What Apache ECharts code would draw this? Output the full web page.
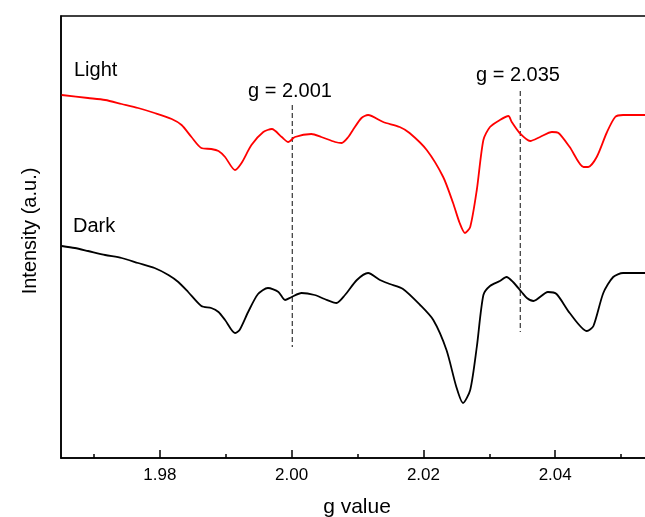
<!DOCTYPE html>
<html>
<head>
<meta charset="utf-8">
<script src="https://cdn.jsdelivr.net/npm/echarts@6/dist/echarts.min.js"></script>
<style>html,body{margin:0;padding:0;background:#fff;}#c{width:645px;height:517px;}</style>
</head>
<body>
<div id="c"></div>
<script>
// g values and intensities (a.u.)
var lightG = [1.9651,1.9691,1.9717,1.9742,1.9767,1.9792,1.9818,1.9833,1.9848,1.9863,1.9878,1.9889,1.9899,1.9914,1.9924,1.9939,1.9957,1.9970,1.9985,1.9995,2.0005,2.0030,2.0045,2.0066,2.0076,2.0086,2.0093,2.0106,2.0116,2.0139,2.0164,2.0179,2.0205,2.0230,2.0245,2.0255,2.0263,2.0271,2.0281,2.0291,2.0301,2.0316,2.0329,2.0334,2.0346,2.0362,2.0377,2.0395,2.0405,2.0422,2.0443,2.0450,2.0463,2.0478,2.0491,2.0503,2.0534,2.0560];
var lightI = [363,360,358,354,350,345,339,333,321,310,309,307,301,288,295,313,326,329,321,316,321,324,321,316,315,321,328,340,343,336,331,325,308,281,255,235,225,231,268,318,331,338,342,336,325,317,321,326,325,311,291,291,301,325,341,343,343,343];
var darkG = [1.9651,1.9671,1.9691,1.9717,1.9742,1.9767,1.9792,1.9813,1.9828,1.9843,1.9863,1.9878,1.9889,1.9899,1.9914,1.9921,1.9934,1.9949,1.9964,1.9980,1.9990,2.0000,2.0015,2.0035,2.0050,2.0068,2.0081,2.0099,2.0116,2.0134,2.0149,2.0169,2.0195,2.0215,2.0235,2.0250,2.0260,2.0271,2.0281,2.0291,2.0301,2.0316,2.0326,2.0336,2.0349,2.0357,2.0367,2.0389,2.0402,2.0422,2.0448,2.0458,2.0473,2.0488,2.0503,2.0534,2.0560];
var darkI = [212,210,207,203,200,195,190,183,176,166,152,150,146,138,125,128,146,164,170,166,158,161,165,163,159,155,163,178,185,178,174,169,153,138,108,71,55,68,111,163,172,177,181,176,166,160,157,166,164,145,127,132,165,181,185,185,185];
// dashed marker lines
var dashG = [2.0001, 2.0347];
var dashTop = [353, 367];
var dashBottom = [111, 126];
var dashLabels = ['g = 2.001', 'g = 2.035'];
// axis ticks
var majorTicks = [1.98, 2.00, 2.02, 2.04, 2.06];
var minorTicks = [1.97, 1.99, 2.01, 2.03, 2.05];
var xMin = 1.965, xMax = 2.06;

var FONT = '"Liberation Sans", Arial, sans-serif';
function zip(a, b) { return a.map(function (v, i) { return [v, b[i]]; }); }

var series = [
  { type: 'line', name: 'Light', data: zip(lightG, lightI), showSymbol: false, smooth: 0.25,
    lineStyle: { color: '#ff0000', width: 1.8 }, itemStyle: { color: '#ff0000' }, z: 3 },
  { type: 'line', name: 'Dark', data: zip(darkG, darkI), showSymbol: false, smooth: 0.25,
    lineStyle: { color: '#000000', width: 1.8 }, itemStyle: { color: '#000' }, z: 3 }
];
dashG.forEach(function (g, i) {
  series.push({ type: 'line', data: [[g, dashTop[i]], [g, dashBottom[i]]], showSymbol: false,
    lineStyle: { color: '#333', width: 1.2, type: [5, 3] }, z: 2, silent: true });
});

var chart = echarts.init(document.getElementById('c'), null, { renderer: 'canvas' });
chart.setOption({
  animation: false,
  backgroundColor: '#fff',
  grid: { left: 61, top: 16, width: 626, height: 442, show: true, borderColor: '#000', borderWidth: 1.5,
    backgroundColor: 'transparent', outerBoundsMode: 'none', containLabel: false },
  xAxis: [
    { type: 'value', min: xMin, max: xMax, position: 'bottom',
      name: 'g value', nameLocation: 'middle', nameGap: 49,
      nameTextStyle: { fontFamily: FONT, fontSize: 21, color: '#000', verticalAlign: 'middle', padding: [0, 34, 0, 0] },
      axisLine: { show: true, lineStyle: { color: '#000', width: 1.5 } },
      axisTick: { show: true, inside: true, length: 8, customValues: majorTicks, lineStyle: { color: '#000', width: 1.5 } },
      axisLabel: { show: true, customValues: majorTicks.slice(0, 4), margin: 9, fontFamily: FONT, fontSize: 17, color: '#000',
        formatter: function (v) { return v.toFixed(2); } },
      splitLine: { show: false } },
    { type: 'value', min: xMin, max: xMax, position: 'bottom',
      axisLine: { show: false },
      axisTick: { show: true, inside: true, length: 4, customValues: minorTicks, lineStyle: { color: '#000', width: 1.5 } },
      axisLabel: { show: false }, splitLine: { show: false } }
  ],
  yAxis: { type: 'value', min: 0, max: 442,
    name: 'Intensity (a.u.)', nameLocation: 'middle', nameGap: 31,
    nameTextStyle: { fontFamily: FONT, fontSize: 20, color: '#000', verticalAlign: 'middle', padding: [0, 0, 0, 12] },
    axisLine: { show: true, lineStyle: { color: '#000', width: 1.5 } },
    axisTick: { show: false }, axisLabel: { show: false }, splitLine: { show: false } },
  series: series,
  graphic: [
    { type: 'text', left: 74, top: 60, style: { text: 'Light', font: '20px ' + FONT, fill: '#000' } },
    { type: 'text', left: 73, top: 216, style: { text: 'Dark', font: '20px ' + FONT, fill: '#000' } },
    { type: 'text', left: 248, top: 81, style: { text: dashLabels[0], font: '20px ' + FONT, fill: '#000' } },
    { type: 'text', left: 476, top: 65, style: { text: dashLabels[1], font: '20px ' + FONT, fill: '#000' } }
  ]
});
</script>
</body>
</html>
